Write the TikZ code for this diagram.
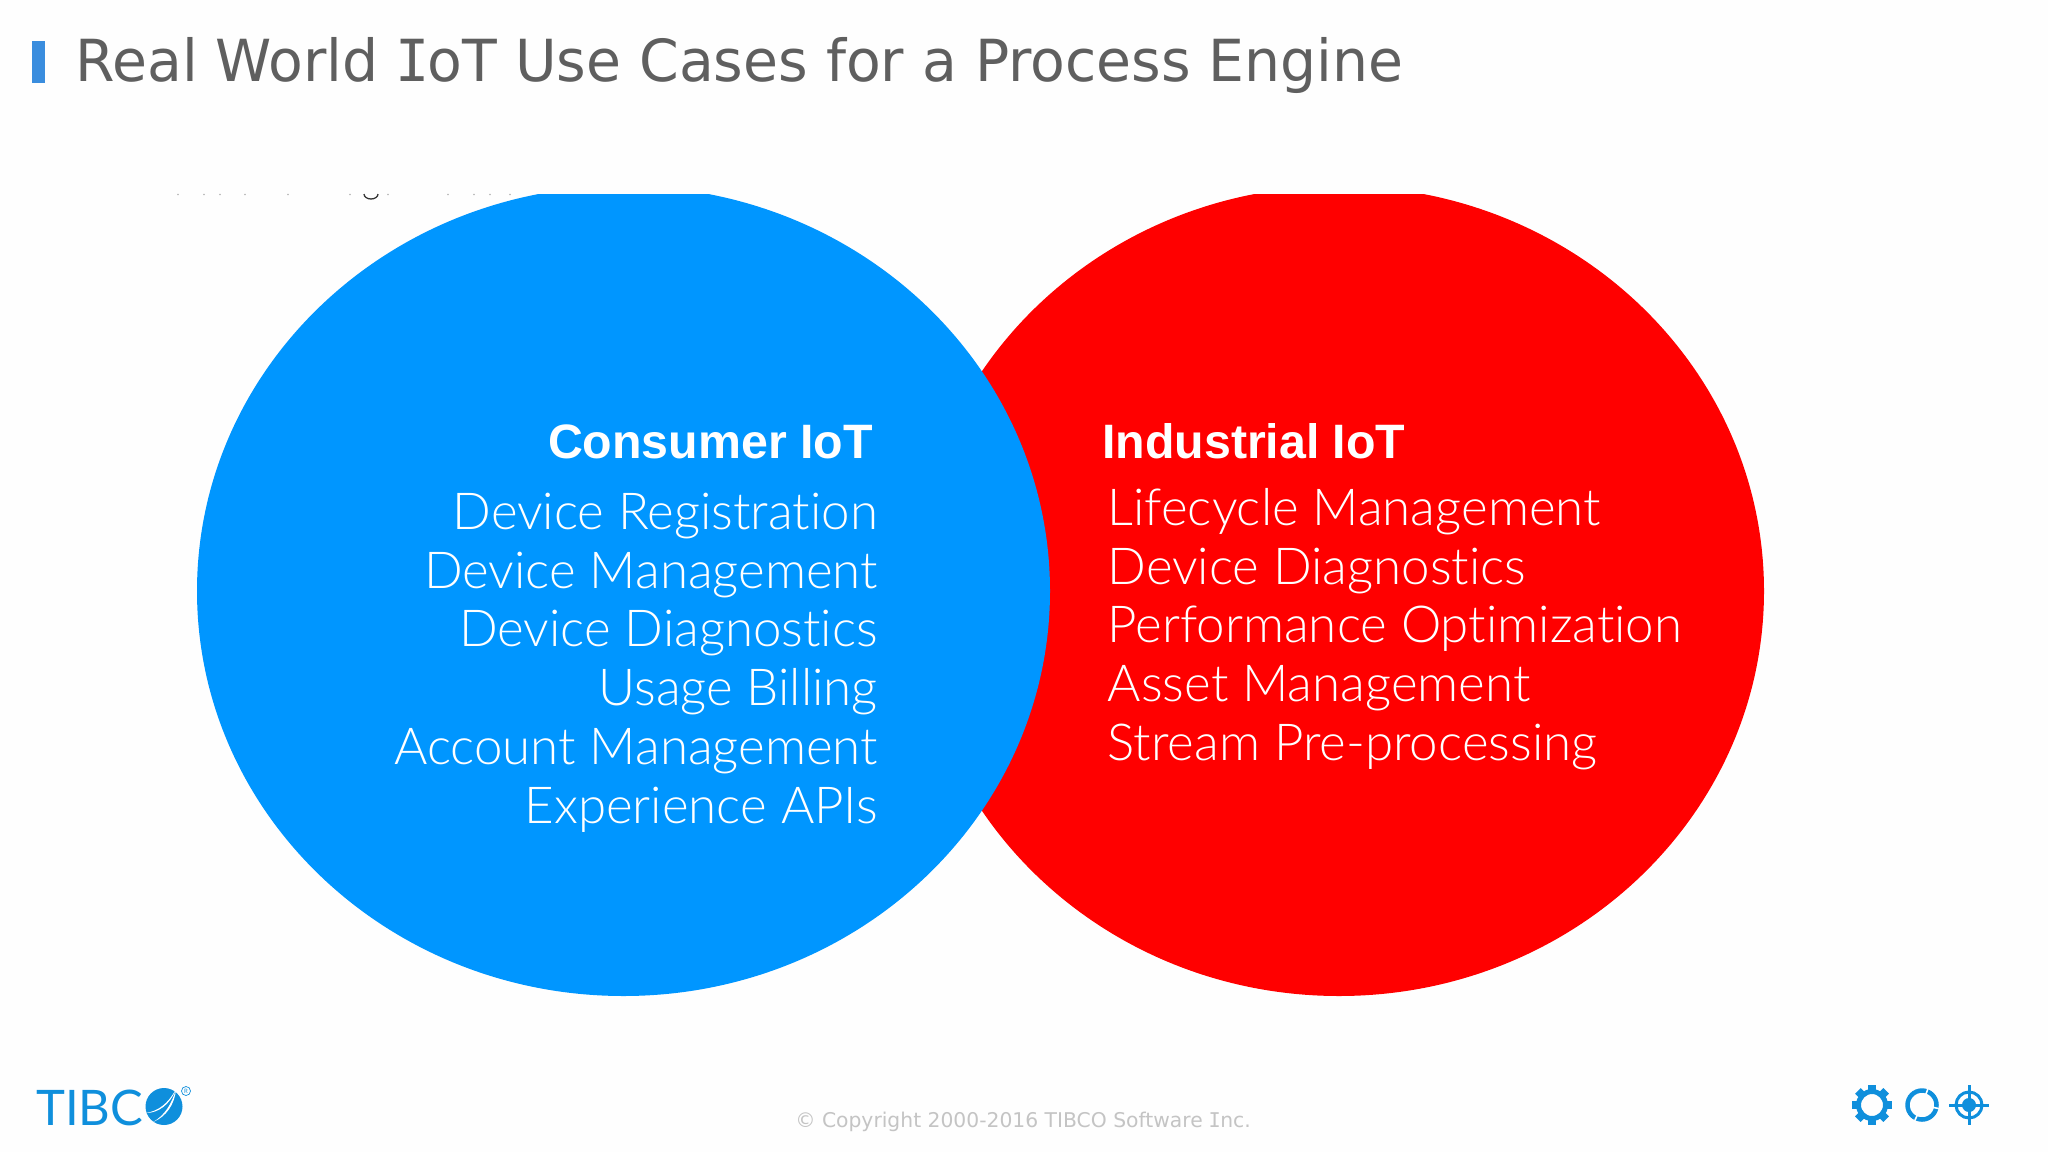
\documentclass[tikz,border=0pt]{standalone}
\usepackage{fontspec}
\setmainfont{Lato}[UprightFont=* Light,BoldFont=* Bold,Ligatures=NoCommon]
\newfontfamily\vfont{DejaVu Sans}
\newfontfamily\vmono{DejaVu Sans Mono}
\newfontfamily\logofont{Lato}
\newfontfamily\headfont{Liberation Sans}
\definecolor{tblue}{HTML}{0096FF}
\definecolor{tred}{HTML}{FF0000}
\definecolor{logoblue}{HTML}{0F8FDC}
\definecolor{bar}{HTML}{3A8DDE}
\definecolor{titlegray}{HTML}{5F5F5F}
\definecolor{footgray}{HTML}{C4C4C4}
\newcommand{\VI}{{\vmono\kern-0.03em I\kern-0.03em}}
\tikzset{
  venttext/.style={text=white,inner sep=0pt,font=\fontsize{51}{51}\selectfont},
  venthead/.style={text=white,inner sep=0pt,font=\fontsize{48.3}{48.3}\headfont\bfseries}
}
\begin{document}
\begin{tikzpicture}[x=1pt,y=-1pt]
\useasboundingbox (0,0) rectangle (2048,1152);
\fill[white!99.5!black] (0,0) rectangle (2048,1152);
\fill[bar] (32,41) rectangle (45,83);
\node[anchor=base west,inner sep=0pt,text=titlegray,font=\fontsize{58}{58}\vfont] (title) at (75,81) {\scalebox{0.98}[1]{Real World \VI oT Use Cases for a Process Engine}};
% clipped remnant of a text line
\fill[gray!60] \foreach \x in {178,204,220,245,288,350,388,448,474,490,510} {(\x,194.5) circle (0.9)};
\draw[black!80,line width=1.3pt] (364,194) arc (180:0:7 and 5);
% circles, clipped on top
\begin{scope}
\clip (0,194) rectangle (2048,1152);
\fill[tred] (1339,591) ellipse (425 and 405);
\fill[tblue] (623.5,591) ellipse (426.5 and 405);
\end{scope}
% left list
\node[venthead,anchor=base east] (chead) at (873,458) {Consumer IoT};
\node[venttext,anchor=base east] (c1) at (878,529) {Device Registration};
\node[venttext,anchor=base east] (c2) at (878,588) {Device Management};
\node[venttext,anchor=base east] (c3) at (878,646.5) {Device Diagnostics};
\node[venttext,anchor=base east] (c4) at (878,705) {Usage Billing};
\node[venttext,anchor=base east] (c5) at (878,764) {Account Management};
\node[venttext,anchor=base east] (c6) at (878,823) {Experience APIs};
% right list
\node[venthead,anchor=base west] (ihead) at (1102,458) {Industrial IoT};
\node[venttext,anchor=base west] (i1) at (1107.5,525) {Lifecycle Management};
\node[venttext,anchor=base west] (i2) at (1107.5,584) {Device Diagnostics};
\node[venttext,anchor=base west] (i3) at (1107.5,642.5) {Performance Optimization};
\node[venttext,anchor=base west] (i4) at (1107.5,701) {Asset Management};
\node[venttext,anchor=base west] (i5) at (1107.5,760) {Stream Pre-processing};
% footer
\node[anchor=base,inner sep=0pt,text=footgray,font=\fontsize{20.3}{20.3}\vfont] (copy) at (1023,1127) {© Copyright 2000-2016 TIBCO Software \VI nc.};
% logo
\node[anchor=base west,inner sep=0pt,text=logoblue,font=\fontsize{49}{49}\logofont] (logo) at (36,1125) {TIBC};
\fill[logoblue] (164,1106.5) circle (18.5);
\fill[white] (176,1089) .. controls (168,1104) and (158,1111) .. (146,1113) .. controls (158,1113) and (170,1105) .. cycle;
\fill[white] (176,1089) .. controls (172,1104) and (164,1116) .. (153,1122) .. controls (166,1117) and (175,1104) .. cycle;
\node[circle,draw=logoblue,line width=0.7pt,inner sep=0pt,minimum size=9pt,text=logoblue,font=\fontsize{6}{6}\logofont] (reg) at (186,1091) {R};
% gear icon
\draw[logoblue,line width=5pt] (1872,1105) circle (13.5);
\foreach \a in {0,45,...,315} {
  \fill[logoblue,rotate around={\a:(1872,1105)}] (1868,1085) rectangle (1876,1093);
}
% cycle icon
\draw[logoblue,line width=4.5pt] (1922,1105) circle (14.5);
\draw[white,line width=1.6pt] (1922,1105) ++(12:10) -- ++(12:9);
\draw[white,line width=1.6pt] (1922,1105) ++(-70:10) -- ++(-70:9);
\draw[white,line width=1.6pt] (1922,1105) ++(115:10) -- ++(115:9);
% target icon
\draw[logoblue,line width=3pt] (1969,1105) circle (13);
\fill[logoblue] (1969,1105) circle (7);
\draw[logoblue,line width=3pt] (1949,1105) -- (1989,1105);
\draw[logoblue,line width=3pt] (1969,1085) -- (1969,1125);
\end{tikzpicture}
\end{document}
